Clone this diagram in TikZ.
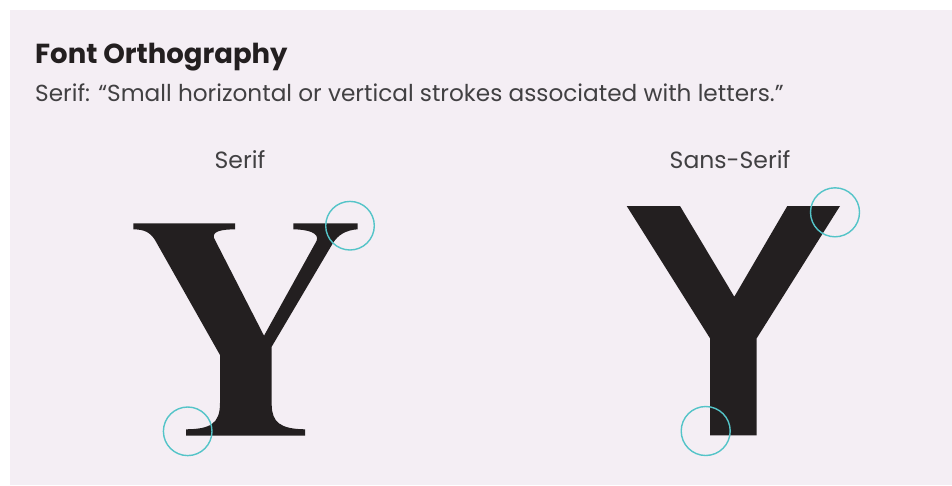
\documentclass[tikz,border=0pt]{standalone}
\usepackage{fontspec}
\setmainfont{Poppins}
\definecolor{bgc}{RGB}{244,238,244}
\definecolor{ink}{RGB}{35,31,32}
\definecolor{txt}{RGB}{65,64,66}
\definecolor{ring}{RGB}{84,196,200}
\tikzset{
  glyph/.style={fill=ink,draw=none},
  marker/.style={draw=ring,line width=1.4pt,fill=none},
  lbl/.style={anchor=base,text=txt,inner sep=0pt,font=\fontsize{23.5}{27}\selectfont},
}
\begin{document}
\begin{tikzpicture}[x=1pt,y=-1pt]
\useasboundingbox (0,0) rectangle (952,485);
\fill[white] (0,0) rectangle (952,485);
\fill[bgc] (10,10) rectangle (952,485);
% texts
\node[anchor=base west,inner sep=0pt,text=ink,font=\fontsize{27.5}{32}\selectfont\bfseries] (title) at (35,63.3) {Font Orthography};
\node[anchor=base west,inner sep=0pt,text=txt,font=\fontsize{23.2}{27}\selectfont] (sub) at (35,101.7) {Serif: “Small horizontal or vertical strokes associated with letters.”};
\node[lbl] (lserif) at (240,168.3) {Serif};
\node[lbl] (lsans) at (730,168.3) {Sans-Serif};
% serif Y
\fill[glyph] (133.3,223.3) -- (235,223.3) -- (235,229.3)
  .. controls (222,229.5) and (212,231) .. (214,238)
  -- (264,335.7) -- (316.5,241)
  .. controls (320,233) and (308,229.5) .. (293.3,229.3)
  -- (293.3,223.3) -- (357.7,223.3) -- (357.7,229.3)
  .. controls (346,230) and (338,235) .. (333,243)
  -- (271.7,346.7) -- (271.7,405)
  .. controls (272,422) and (280,429) .. (305,429.3)
  -- (305,435.7) -- (186,435.7) -- (186,429.3)
  .. controls (210,429) and (220,424) .. (220,403)
  -- (220,355) -- (155,240)
  .. controls (150,232) and (144,229.5) .. (133.3,229.3) -- cycle;
% sans Y
\fill[glyph] (626.7,206) -- (680,206) -- (734.3,296.7) -- (787.3,206) -- (840,206)
  -- (756.7,338.3) -- (756.7,435.3) -- (710,435.3) -- (710,338.3) -- cycle;
% markers
\draw[marker] (350,225.7) circle[radius=24.3];
\draw[marker] (187.7,431.3) circle[radius=24.3];
\draw[marker] (835,212.3) circle[radius=24.5];
\draw[marker] (705.7,431) circle[radius=24.5];
\end{tikzpicture}
\end{document}
